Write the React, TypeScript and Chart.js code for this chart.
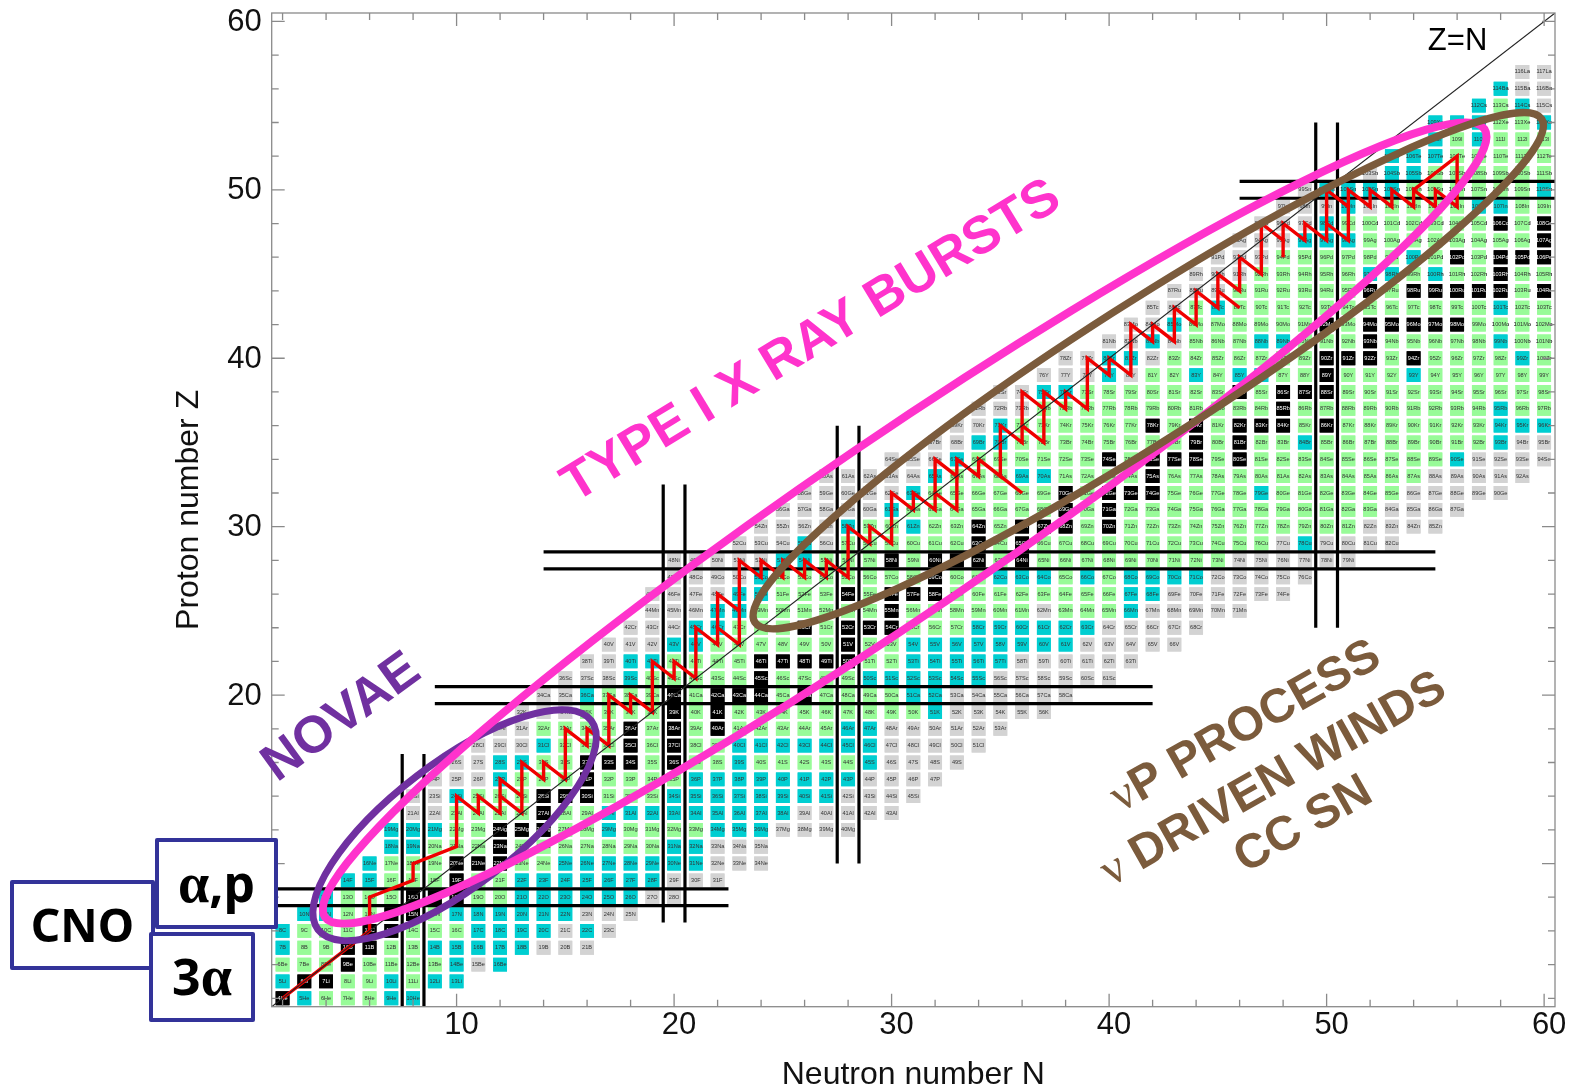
import React, { useEffect, useRef } from "react";
import { Chart, registerables } from "chart.js";

Chart.register(...registerables);

// One row per proton number: [Z, symbol, first mass number, runs of cell classes]
// k = stable (black), g = known (green), c = cyan, s = grey
const nuclideRows: [number, string, number, string][] = [
  [2, "He", 4, "1k 1c 3g 2c"],
  [3, "Li", 5, "1c 2k 2g 1c 1g 2c"],
  [4, "Be", 6, "3g 1k 4g 1c 1s 1c"],
  [5, "B", 7, "1c 2g 2k 2g 5c 3s"],
  [6, "C", 8, "1c 3g 2k 3g 4c 1s 1c 1s"],
  [7, "N", 10, "2c 2g 2k 1g 6c 3s"],
  [8, "O", 12, "1c 3g 3k 2g 6c 2s"],
  [9, "F", 14, "2c 3g 1k 2g 7c 3s"],
  [10, "Ne", 16, "1c 3g 3k 2g 7c 3s"],
  [11, "Na", 18, "2c 3g 1k 7g 2c 3s"],
  [12, "Mg", 19, "3c 2g 3k 2g 1c 4g 3c 4s"],
  [13, "Al", 21, "2s 4g 1k 2g 9c 5s"],
  [14, "Si", 22, "2s 1c 3g 3k 3g 8c 4s"],
  [15, "P", 24, "3s 1c 3g 1k 4g 8c 4s"],
  [16, "S", 26, "2s 2c 2g 3k 1g 1k 2g 1c 5g 1c 4s"],
  [17, "Cl", 28, "3s 1c 3g 1k 1g 1k 2g 7c 5s"],
  [18, "Ar", 30, "2s 4g 1k 1g 1k 1g 1k 5g 2c 6s"],
  [19, "K", 32, "3s 4g 1k 1g 1k 9g 1c 5s"],
  [20, "Ca", 34, "2s 1c 3g 1k 1g 3k 1g 1k 4g 2c 6s"],
  [21, "Sc", 36, "3s 1c 5g 1k 4g 6c 6s"],
  [22, "Ti", 38, "2s 2c 4g 5k 2g 5c 6s"],
  [23, "V", 40, "3s 2c 6g 1k 2g 8c 5s"],
  [24, "Cr", 42, "3s 2c 3g 1k 1g 3k 3g 6c 5s"],
  [25, "Mn", 44, "3s 2c 6g 1k 6g 1s 3g 1c 5s"],
  [26, "Fe", 45, "4s 2c 3g 1k 1g 3k 8g 2c 6s"],
  [27, "Co", 47, "4s 1c 7g 1k 2g 3c 1g 1c 1g 4c 5s"],
  [28, "Ni", 48, "5s 2c 3g 1k 1g 3k 1g 1k 9g 6s"],
  [29, "Cu", 52, "3s 1c 1s 6g 1k 1g 1k 11g 1s 1c 4s"],
  [30, "Zn", 54, "4s 1c 2g 1c 2g 1k 1g 3k 1g 1k 11g 4s"],
  [31, "Ga", 56, "5s 1c 7g 1k 1g 1k 12g 4s"],
  [32, "Ge", 58, "5s 1c 6g 1k 1g 3k 4g 1c 6g 5s"],
  [33, "As", 60, "5s 1c 3g 2c 4g 1k 12g 5s"],
  [34, "Se", 64, "3s 1c 6g 1k 1g 3k 1g 1k 9g 1c 4s"],
  [35, "Br", 67, "2s 2c 8g 1k 1g 1k 2g 1c 8g 1c 2s"],
  [36, "Kr", 69, "2s 1c 6g 1k 1g 1k 1g 3k 1g 1k 7g 3c"],
  [37, "Rb", 71, "3s 11g 1k 9g 1c 2g"],
  [38, "Sr", 73, "2s 2c 7g 1k 1g 3k 10g"],
  [39, "Y", 76, "3s 1c 1s 2g 1c 1g 2c 2g 1k 3g 1c 6g"],
  [40, "Zr", 78, "2s 2c 1s 7g 3k 1g 1k 4g 1c 1g"],
  [41, "Nb", 81, "2s 1c 1s 3g 2c 3g 1k 5g 1c 2g"],
  [42, "Mo", 83, "2s 1c 6g 1k 1g 5k 4g"],
  [43, "Tc", 85, "2s 1g 1c 12g 1c 2g"],
  [44, "Ru", 87, "3s 6g 1k 1g 5k 1g 1k"],
  [45, "Rh", 89, "3s 5g 2c 1g 1c 2g 1k 2g"],
  [46, "Pd", 91, "3s 6g 1c 1g 1k 1g 3k"],
  [47, "Ag", 93, "3s 3c 8g 1k"],
  [48, "Cd", 95, "3s 1c 7g 1k 1g 1k"],
  [49, "In", 97, "3s 1c 1s 4g 2c 2g"],
  [50, "Sn", 99, "1s 4c 6g 1c"],
  [51, "Sb", 103, "1s 2c 6g"],
  [52, "Te", 105, "3c 5g"],
  [53, "I", 108, "1c 1g 1c 3g"],
  [54, "Xe", 109, "3c 2g 1c"],
  [55, "Cs", 112, "1c 1g 1c 1s"],
  [56, "Ba", 114, "1c 2s"],
  [57, "La", 116, "2s"],
];

const cellColours: Record<string, string> = { g: "#98FB98", c: "#00CED1", k: "#000000", s: "#D3D3D3" };

const tickValues = [2, 4, 6, 8, 10, 12, 14, 16, 18, 20, 22, 24, 26, 28, 30, 32, 34, 36, 38, 40, 42, 44, 46, 48, 50, 52, 54, 56, 58, 60];

// Closed-shell guide lines: [axis, magic value, from, to]
const shellLines: ["N" | "Z", number, number, number][] = [
  ["N", 8, 1.5, 16.5],
  ["Z", 8, 1.5, 22.5],
  ["N", 20, 6.5, 32.5],
  ["Z", 20, 9, 42],
  ["N", 28, 10, 36],
  ["Z", 28, 14, 55],
  ["N", 50, 24, 54],
  ["Z", 50, 46, 60.5],
];

const diagonal = [[1.5, 1.5], [60.5, 60.5]];

// Reaction flow: [N, Z]
const flowMain = [
  [2, 2], [6, 6], [6, 8], [8, 9], [8, 10], [10, 11], [10, 14], [11, 13], [11, 14], [12, 13], [12, 15], [13, 14],
  [13, 16], [14, 15], [14, 16], [15, 15], [15, 18], [16, 17], [16, 18], [17, 17], [17, 20], [18, 19], [18, 20],
  [19, 19], [19, 22], [20, 21], [20, 22], [21, 21], [21, 24], [22, 23], [22, 26], [23, 25], [23, 28], [24, 27],
  [24, 28], [25, 27], [25, 28], [26, 27], [26, 28], [27, 27], [27, 28], [28, 27], [28, 30], [29, 29], [29, 30],
  [30, 29], [30, 32], [31, 31], [31, 32], [32, 31], [32, 34], [33, 33], [33, 34], [34, 33], [34, 34], [35, 33],
  [35, 36], [36, 35], [36, 38], [37, 37], [37, 38], [38, 37], [38, 38], [39, 37], [39, 40], [40, 39], [40, 40],
  [41, 39], [41, 42], [42, 41], [42, 42], [43, 41], [43, 43], [44, 42], [44, 44], [45, 43], [45, 45], [46, 44],
  [46, 46], [47, 45], [47, 48], [48, 47], [48, 48], [49, 47], [49, 48], [50, 47], [50, 50], [51, 49], [51, 50],
  [52, 49], [52, 50], [53, 49], [53, 50], [54, 49], [54, 50], [55, 49], [55, 50], [56, 49], [56, 52], [54, 50],
];
const flowBranches = [
  [[12, 14], [13, 13], [13, 14]],
  [[22, 24], [23, 23], [23, 25]],
  [[32, 32], [33, 31], [33, 33]],
  [[35, 33], [36, 32]],
  [[36, 36], [37, 35], [37, 37]],
  [[45, 44], [46, 43]],
  [[48, 46], [48, 47]],
  [[50, 48], [51, 47], [51, 49]],
];

// Site ellipses: centre in (N, Z), semi-axes in pixels, tilt in degrees
const regionStyles = [
  { n: 9.91, z: 12.28, a: 172, b: 62, tilt: 37.4, colour: "#7030A0", width: 7 },
  { n: 30.6, z: 30.22, a: 701, b: 88, tilt: 34.2, colour: "#FF33CC", width: 8 },
  { n: 41.8, z: 39.26, a: 467, b: 68, tilt: 32.6, colour: "#7B5B3C", width: 7.5 },
];

const SANS = '"Liberation Sans", Arial, sans-serif';
const SERIF = '"Liberation Serif", serif';
const HEAVY = '"Noto Sans", sans-serif';

// Labels placed in data coordinates: [N, Z, angle in degrees, colour, runs of text and font]
const regionLabels: [number, number, number, string, [string, string][]][] = [
  [26.32, 40.98, -31.3, "#FF33CC", [["TYPE I X RAY BURSTS", `bold 53px ${SANS}`]]],
  [4.72, 18.65, -36, "#7030A0", [["NOVAE", `bold 52px ${SANS}`]]],
  [46.28, 18.1, -29.5, "#7B5B3C", [["\u03BD", `48px ${SERIF}`], ["P PROCESS", `bold 48px ${SANS}`]]],
  [47.56, 14.95, -29.5, "#7B5B3C", [["\u03BD ", `48px ${SERIF}`], ["DRIVEN WINDS", `bold 48px ${SANS}`]]],
  [48.94, 12.28, -29.5, "#7B5B3C", [["CC SN", `bold 48px ${SANS}`]]],
  [56.02, 58.8, 0, "#000000", [["Z=N", `31px ${SANS}`]]],
];

const cycleBoxes: { runs: [string, string][]; left: number; top: number; right: number; bottom: number }[] = [
  { runs: [["CNO", `bold 46px ${HEAVY}`]], left: 12, top: 882, right: 153, bottom: 968 },
  { runs: [["3", `bold 50px ${HEAVY}`], ["\u03B1", `bold 56px ${SERIF}`]], left: 151, top: 934, right: 253, bottom: 1020 },
  { runs: [["\u03B1", `bold 56px ${SERIF}`], [",p", `bold 50px ${HEAVY}`]], left: 157, top: 840, right: 276, bottom: 927 },
];

function decodeCells() {
  const out: Record<string, { x: number; y: number; label: string }[]> = { g: [], c: [], k: [], s: [] };
  for (const [z, sym, firstA, runs] of nuclideRows) {
    let a = firstA;
    for (const run of runs.split(" ")) {
      const cls = run.slice(-1);
      const count = parseInt(run, 10);
      for (let i = 0; i < count; i++) {
        out[cls].push({ x: a - z, y: z, label: `${a}${sym}` });
        a++;
      }
    }
  }
  return out;
}

function drawRuns(ctx: CanvasRenderingContext2D, runs: [string, string][]) {
  let total = 0;
  for (const [t, f] of runs) {
    ctx.font = f;
    total += ctx.measureText(t).width;
  }
  let cur = -total / 2;
  for (const [t, f] of runs) {
    ctx.font = f;
    ctx.fillText(t, cur, 0);
    cur += ctx.measureText(t).width;
  }
}

const cellLabelPlugin = {
  id: "cellLabels",
  afterDatasetDraw(chart: any, args: any) {
    const ds = chart.data.datasets[args.index];
    if (!ds.cellClass) return;
    const { ctx, chartArea: a } = chart;
    const meta = chart.getDatasetMeta(args.index);
    ctx.save();
    ctx.font = `5.6px ${SANS}`;
    ctx.textAlign = "center";
    ctx.textBaseline = "middle";
    ctx.fillStyle = ds.cellClass === "k" ? "#FFFFFF" : "#333333";
    meta.data.forEach((el: any, i: number) => ctx.fillText(ds.data[i].label, el.x, el.y));
    ctx.restore();
    // the green set is the last of the cell sets to be painted: soften the finished table once
    if (ds.cellClass === "g") {
      ctx.save();
      ctx.beginPath();
      ctx.rect(a.left, a.top, a.right - a.left, a.bottom - a.top);
      ctx.clip();
      ctx.filter = "blur(0.5px)";
      ctx.drawImage(chart.canvas, 0, 0);
      ctx.restore();
    }
  },
};

const overlayPlugin = {
  id: "overlay",
  afterDatasetsDraw(chart: any) {
    const { ctx, chartArea: a, scales } = chart;
    const { x: sx, y: sy } = scales;
    ctx.save();

    // frame and inward ticks on all four sides
    ctx.strokeStyle = "#8A8A8A";
    ctx.lineWidth = 1.3;
    ctx.strokeRect(a.left, a.top, a.right - a.left, a.bottom - a.top);
    ctx.beginPath();
    sx.ticks.forEach((t: any) => {
      const px = sx.getPixelForValue(t.value);
      const len = t.value % 10 === 0 ? 13 : 7;
      ctx.moveTo(px, a.bottom);
      ctx.lineTo(px, a.bottom - len);
      ctx.moveTo(px, a.top);
      ctx.lineTo(px, a.top + len);
    });
    sy.ticks.forEach((t: any) => {
      const py = sy.getPixelForValue(t.value);
      const len = t.value % 10 === 0 ? 13 : 7;
      ctx.moveTo(a.left, py);
      ctx.lineTo(a.left + len, py);
      ctx.moveTo(a.right, py);
      ctx.lineTo(a.right - len, py);
    });
    ctx.stroke();

    // regions
    for (const r of regionStyles) {
      ctx.beginPath();
      ctx.ellipse(
        sx.getPixelForValue(r.n),
        sy.getPixelForValue(r.z),
        r.a,
        r.b,
        (-r.tilt * Math.PI) / 180,
        0,
        Math.PI * 2
      );
      ctx.strokeStyle = r.colour;
      ctx.lineWidth = r.width;
      ctx.stroke();
    }

    // rotated labels
    ctx.textBaseline = "middle";
    ctx.textAlign = "left";
    for (const [n, z, deg, colour, runs] of regionLabels) {
      ctx.save();
      ctx.translate(sx.getPixelForValue(n), sy.getPixelForValue(z));
      ctx.rotate((deg * Math.PI) / 180);
      ctx.fillStyle = colour;
      drawRuns(ctx, runs);
      ctx.restore();
    }

    // reaction-cycle boxes
    ctx.lineJoin = "round";
    for (const b of cycleBoxes) {
      ctx.fillStyle = "#FFFFFF";
      ctx.fillRect(b.left, b.top, b.right - b.left, b.bottom - b.top);
      ctx.strokeStyle = "#333399";
      ctx.lineWidth = 4;
      ctx.strokeRect(b.left, b.top, b.right - b.left, b.bottom - b.top);
      ctx.save();
      ctx.translate((b.left + b.right) / 2, (b.top + b.bottom) / 2 + 4);
      ctx.fillStyle = "#000000";
      drawRuns(ctx, b.runs);
      ctx.restore();
    }
    ctx.restore();
  },
};

const tickFont = { family: "'Liberation Sans', Arial, sans-serif", size: 31 };

export default function App() {
  const ref = useRef<HTMLCanvasElement | null>(null);

  useEffect(() => {
    document.body.style.margin = "0";
    const cells = decodeCells();
    const toXY = (p: number[]) => ({ x: p[0], y: p[1] });

    const datasets: any[] = [];
    for (const cls of ["g", "c", "s", "k"]) {
      datasets.push({
        label: cls,
        cellClass: cls,
        data: cells[cls],
        pointStyle: "rect",
        pointRadius: 9.8,
        pointBorderWidth: 0,
        backgroundColor: cellColours[cls],
        borderColor: cellColours[cls],
        order: 20,
      });
    }
    for (const [axis, magic, from, to] of shellLines) {
      for (const v of [magic - 0.5, magic + 0.5]) {
        datasets.push({
          label: `${axis}=${v}`,
          data: axis === "N" ? [{ x: v, y: from }, { x: v, y: to }] : [{ x: from, y: v }, { x: to, y: v }],
          showLine: true,
          pointRadius: 0,
          borderColor: "#000000",
          borderWidth: 3.2,
          order: 10,
        });
      }
    }
    datasets.push({
      label: "flow",
      data: flowMain.map(toXY),
      showLine: true,
      pointRadius: 0,
      borderColor: "#F00000",
      borderWidth: 3.4,
      order: 5,
    });
    flowBranches.forEach((b, i) =>
      datasets.push({
        label: `flow${i}`,
        data: b.map(toXY),
        showLine: true,
        pointRadius: 0,
        borderColor: "#F00000",
        borderWidth: 3.4,
        order: 5,
      })
    );
    datasets.push({
      label: "Z=N",
      data: diagonal.map(toXY),
      showLine: true,
      pointRadius: 0,
      borderColor: "#222222",
      borderWidth: 1.1,
      order: 1,
    });

    const baseScale = {
      type: "linear",
      min: 1.5,
      max: 60.5,
      grid: { display: false, drawTicks: false },
      border: { display: false },
      afterBuildTicks: (s: any) => {
        s.ticks = tickValues.map((value) => ({ value }));
      },
    };

    const chart = new Chart(ref.current as HTMLCanvasElement, {
      type: "scatter",
      data: { datasets },
      plugins: [cellLabelPlugin, overlayPlugin],
      options: {
        animation: false,
        responsive: false,
        events: [],
        layout: { padding: { left: 0, top: 13, right: 21, bottom: 0 } },
        plugins: { legend: { display: false }, tooltip: { enabled: false } },
        scales: {
          x: {
            ...baseScale,
            title: {
              display: true,
              text: "Neutron number N",
              color: "#111111",
              font: { ...tickFont, size: 32, lineHeight: 1 },
              padding: { top: 0, bottom: -2.5 },
            },
            ticks: {
              autoSkip: false,
              maxRotation: 0,
              font: tickFont,
              color: "#111111",
              padding: 0,
              labelOffset: 5,
              callback: (v: any) => (v % 10 === 0 ? String(v) : ""),
            },
            afterFit: (s: any) => {
              s.height = 82.3;
              s.paddingLeft = 0;
              s.paddingRight = 0;
            },
          },
          y: {
            ...baseScale,
            title: {
              display: true,
              text: "Proton number Z",
              color: "#111111",
              font: { ...tickFont, size: 32 },
              padding: { top: 170, bottom: 0 },
            },
            ticks: {
              autoSkip: false,
              font: tickFont,
              color: "#111111",
              padding: 10,
              labelOffset: 1,
              callback: (v: any) => (v % 10 === 0 ? String(v) : ""),
            },
            afterFit: (s: any) => {
              s.width = 271.7;
              s.paddingTop = 0;
              s.paddingBottom = 0;
            },
          },
        },
      },
    } as any);

    return () => chart.destroy();
  }, []);

  return <canvas ref={ref} width={1576} height={1089} style={{ display: "block" }} />;
}
